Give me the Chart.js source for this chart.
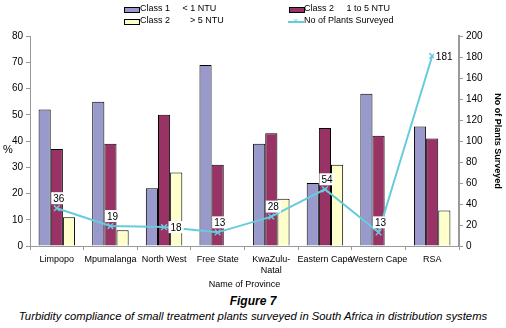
<!DOCTYPE html>
<html>
<head>
<meta charset="utf-8">
<script src="https://cdn.jsdelivr.net/npm/chart.js@4.4.0/dist/chart.umd.min.js"></script>
<style>
  body { margin: 0; background: #fff; font-family: "Liberation Sans", Arial, sans-serif; }
  #wrap { position: relative; width: 506px; height: 328px; }
  #chart { position: absolute; left: 0; top: 0; }
  .lg { position: absolute; font-size: 9px; color: #000; white-space: pre; line-height: 12px; }
  .sw { position: absolute; width: 14px; height: 4px; border: 1px solid #000; }
  .ln { position: absolute; width: 16px; height: 2px; background: #66CCDD; }
  .mk { position: absolute; font-size: 9px; color: #66CCDD; line-height: 10px; }
  .cap { position: absolute; left: 0; width: 506px; text-align: center; font-style: italic; }
</style>
</head>
<body>
<div id="wrap">
  <canvas id="chart" width="506" height="290"></canvas>

  <div class="sw" style="left:124px;top:7px;background:#9999CC"></div>
  <div class="lg" style="left:140px;top:2px">Class 1     &lt; 1 NTU</div>
  <div class="sw" style="left:289px;top:7px;background:#993366"></div>
  <div class="lg" style="left:304px;top:2px">Class 2     1 to 5 NTU</div>
  <div class="sw" style="left:124px;top:19px;background:#FFFFCC"></div>
  <div class="lg" style="left:140px;top:14px">Class 2        &gt; 5 NTU</div>
  <div class="ln" style="left:288px;top:21px"></div>
  <div class="mk" style="left:293px;top:16px">×</div>
  <div class="lg" style="left:304px;top:14px">No of Plants Surveyed</div>

  <div class="cap" style="top:294px;font-size:12px;font-weight:bold">Figure 7</div>
  <div class="cap" style="top:310px;font-size:11.3px">Turbidity compliance of small treatment plants surveyed in South Africa in distribution systems</div>
</div>
<script>
const provinces = ['Limpopo', 'Mpumalanga', 'North West', 'Free State', ['KwaZulu-', 'Natal'], 'Eastern Cape', 'Western Cape', 'RSA'];
const class1Below1 = [52, 55, 22, 69, 39, 24, 58, 45.5];
const class2From1To5 = [37, 39, 50, 31, 43, 45, 42, 41];
const class2Above5 = [11, 6, 28, 0, 18, 31, 0, 13.5];
const plantsSurveyed = [36, 19, 18, 13, 28, 54, 13, 181];
const labelSide = ['top', 'top', 'right', 'top', 'top', 'top', 'top', 'right'];

const font = { family: '"Liberation Sans", Arial, sans-serif', size: 10 };
const smallFont = { family: '"Liberation Sans", Arial, sans-serif', size: 9 };

// white boxed value labels next to the line points
const pointLabels = {
    id: 'pointLabels',
    afterDatasetsDraw(chart) {
        const ctx = chart.ctx;
        const meta = chart.getDatasetMeta(3);
        ctx.save();
        ctx.font = '10px "Liberation Sans", Arial, sans-serif';
        ctx.textAlign = 'center';
        ctx.textBaseline = 'middle';
        meta.data.forEach((pt, i) => {
            const txt = String(plantsSurveyed[i]);
            const w = ctx.measureText(txt).width + 4;
            let x = pt.x + 2, y = pt.y - 10;
            if (labelSide[i] === 'right') { x = pt.x + 12; y = pt.y; }
            ctx.fillStyle = '#fff';
            ctx.fillRect(x - w / 2, y - 6, w, 12);
            ctx.fillStyle = '#000';
            ctx.fillText(txt, x, y + 1);
        });
        ctx.restore();
    }
};

Chart.defaults.font = font;
Chart.defaults.color = '#000';

new Chart(document.getElementById('chart'), {
    type: 'bar',
    data: {
        labels: provinces,
        datasets: [
            { label: 'Class 1     < 1 NTU', data: class1Below1, backgroundColor: '#9999CC', borderColor: '#000', borderWidth: 1, yAxisID: 'y', order: 2 },
            { label: 'Class 2     1 to 5 NTU', data: class2From1To5, backgroundColor: '#993366', borderColor: '#000', borderWidth: 1, yAxisID: 'y', order: 2 },
            { label: 'Class 2     > 5 NTU', data: class2Above5, backgroundColor: '#FFFFCC', borderColor: '#000', borderWidth: 1, yAxisID: 'y', order: 2 },
            {
                type: 'line', label: 'No of Plants Surveyed', data: plantsSurveyed, yAxisID: 'y1', order: 1,
                borderColor: '#66CCDD', borderWidth: 2, backgroundColor: '#fff',
                pointStyle: 'crossRot', pointRadius: 4, pointBorderColor: '#66CCDD', pointBorderWidth: 1.5,
                tension: 0
            }
        ]
    },
    options: {
        responsive: false,
        animation: false,
        datasets: { bar: { barPercentage: 1, categoryPercentage: 0.68 } },
        layout: { padding: { top: 36, left: 0, right: 0 } },
        plugins: { legend: { display: false }, tooltip: { enabled: false } },
        scales: {
            x: {
                grid: { offset: true, drawOnChartArea: false, drawTicks: true, tickLength: 4, color: '#999' },
                border: { color: '#999', width: 1 },
                ticks: { font: smallFont, padding: 4, maxRotation: 0, autoSkip: false },
                title: { display: true, text: 'Name of Province', font: smallFont, padding: { top: 5, bottom: 0 } },
                afterFit(s) { s.height = 44; }
            },
            y: {
                position: 'left', min: 0, max: 80,
                ticks: { stepSize: 10, font: font, padding: 3 },
                grid: { drawOnChartArea: false, drawTicks: true, tickLength: 4, color: '#999' },
                border: { color: '#999', width: 1 },
                afterFit(s) { s.width = 30; }
            },
            y1: {
                position: 'right', min: 0, max: 200,
                ticks: { stepSize: 20, font: font, padding: 3 },
                grid: { drawOnChartArea: false, drawTicks: true, tickLength: 4, color: '#999' },
                border: { color: '#999', width: 2 },
                afterFit(s) { s.width = 47; }
            }
        }
    },
    plugins: [pointLabels, {
        id: 'axisTitles',
        afterDraw(chart) {
            const ctx = chart.ctx;
            ctx.save();
            ctx.fillStyle = '#000';
            ctx.font = '11px "Liberation Sans", Arial, sans-serif';
            ctx.textAlign = 'center';
            ctx.textBaseline = 'middle';
            ctx.fillText('%', 8, 150);
            ctx.translate(497, 141);
            ctx.rotate(Math.PI / 2);
            ctx.font = 'bold 9px "Liberation Sans", Arial, sans-serif';
            ctx.fillText('No of Plants Surveyed', 0, 0);
            ctx.restore();
        }
    }]
});
</script>
</body>
</html>
